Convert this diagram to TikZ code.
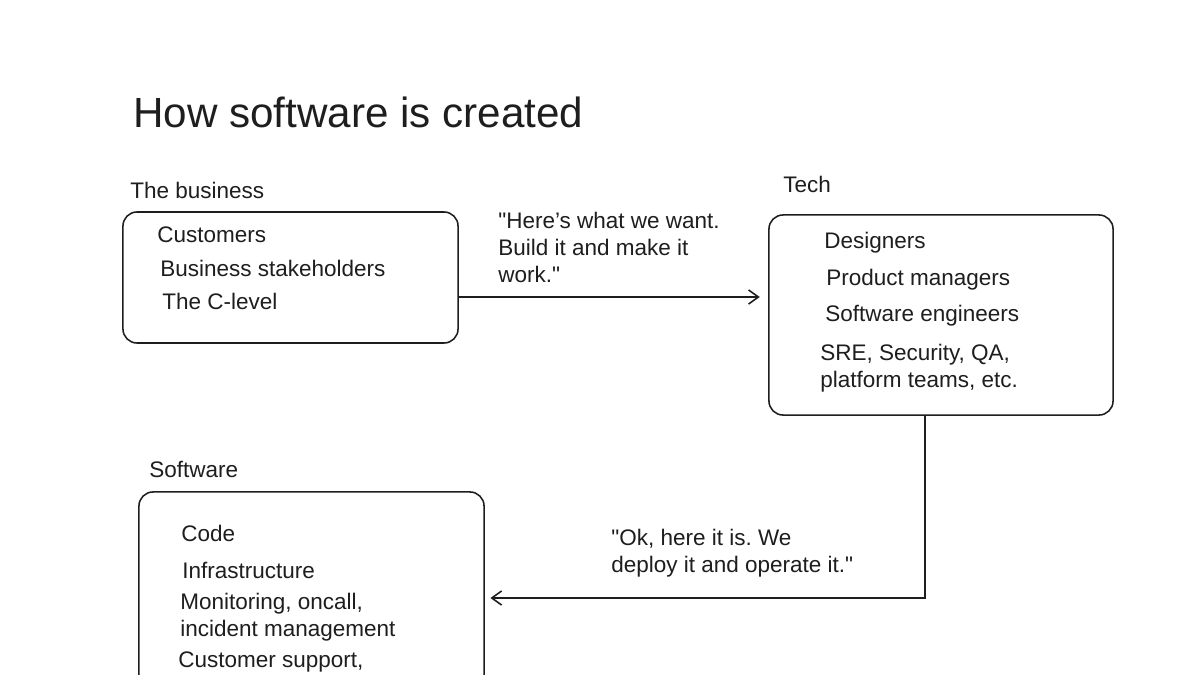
\documentclass[tikz,border=0pt]{standalone}
\usepackage{fontspec}
\setmainfont{Liberation Sans}
\usetikzlibrary{arrows.meta}
\definecolor{ink}{HTML}{1E1E1E}
\frenchspacing
\tikzset{
    box/.style={draw=ink, line width=1.1pt, rounded corners=10pt, inner sep=0pt},
    txt/.style={anchor=west, inner sep=0pt, text=ink, align=left, font=\fontsize{16}{19}\selectfont},
    arrow/.style={draw=ink, line width=1.1pt, -{Straight Barb[length=7pt, width=10pt]}},
}
\begin{document}
\begin{tikzpicture}[x=0.025cm, y=-0.025cm]
                        \useasboundingbox (0, 0) rectangle (1200, 675);
                        \clip (0, 0) rectangle (1200, 675);
                        \fill [white] (0, 0) rectangle (1200, 675);

                        \node (title) at (133, 112) [txt, font=\fontsize{30}{36}\selectfont] {How software is created};

                        \node (business) at (290.5, 277.5) [box, minimum width=8.375cm, minimum height=3.275cm] {};
                        \node (tech) at (941, 315) [box, minimum width=8.6cm, minimum height=5cm] {};
                        \node (software) at (311.5, 610) [box, minimum width=8.625cm, minimum height=5.9cm] {};

                        \node (businesslabel) at (130, 190) [txt] {The business};
                        \node (techlabel) at (783, 184) [txt] {Tech};
                        \node (softwarelabel) at (149, 469) [txt] {Software};

                        \foreach \n/\x/\y/\t in {cust/157/235/Customers, stake/160/268/Business stakeholders, clevel/162/301/The C-level} {
                            \node (\n) at (\x, \y) [txt] {\t};
                        }

                        \foreach \n/\x/\y/\t in {design/824/243/Designers, pm/826/280/Product managers, swe/825/316/Software engineers, sre/820/368/{SRE, Security, QA,\\platform teams, etc.}} {
                            \node (\n) at (\x, \y) [txt] {\t};
                        }

                        \foreach \n/\x/\y/\t in {code/181/533/Code, infra/182/570/Infrastructure, oncall/180/617.5/{Monitoring, oncall,\\incident management}, support/178/662/{Customer support,}} {
                            \node (\n) at (\x, \y) [txt] {\t};
                        }

                        \node (want) at (498, 247.5) [txt] {\textquotedbl Here's what we want.\\Build it and make it\\work.\textquotedbl};
                        \node (deploy) at (611, 553) [txt] {\textquotedbl Ok, here it is. We\\deploy it and operate it.\textquotedbl};

                        \coordinate (ask) at (0, 297);
                        \coordinate (bend) at (925, 598);

                        \draw [arrow, shorten >=6pt] (business.east |- ask) -- (tech.west |- ask);
                        \draw [arrow, shorten >=4pt] (tech.south -| bend) -- (bend) -- (software.east |- bend);

%                         \draw [red] (business.north west) rectangle (business.south east);
                    \end{tikzpicture}
\end{document}
